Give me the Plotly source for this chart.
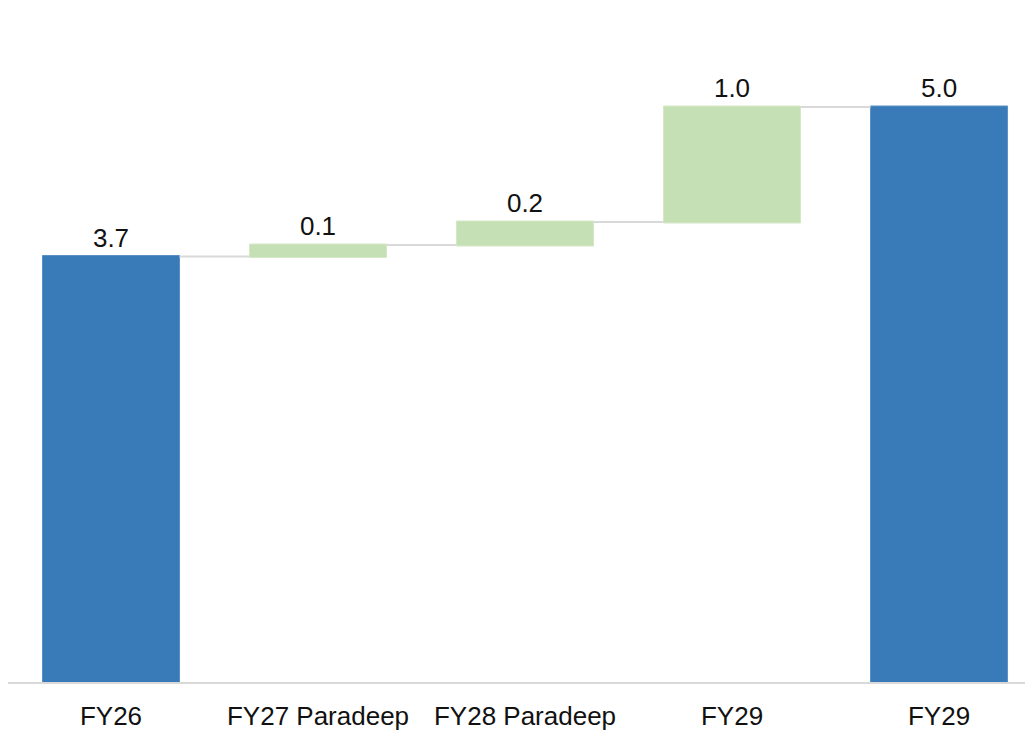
import plotly.graph_objects as go

categories = ["FY26", "FY27 Paradeep", "FY28 Paradeep", "FY29", "FY29"]
measures = ["absolute", "relative", "relative", "relative", "total"]
values = [3.7, 0.1, 0.2, 1.0, 0]
labels = ["3.7", "0.1", "0.2", "1.0", "5.0"]

BLUE = "#397bb8"
GREEN = "#c6e0b5"
GREY = "#d9d9d9"
FONT = "Liberation Sans, Arial, sans-serif"

x = list(range(len(categories)))

fig = go.Figure(go.Waterfall(
    x=x,
    y=values,
    measure=measures,
    text=labels,
    textposition="outside",
    constraintext="none",
    textfont=dict(family=FONT, size=26, color="#111111"),
    increasing=dict(marker=dict(color=GREEN, line=dict(color="#d4e8c6", width=1))),
    decreasing=dict(marker=dict(color="#c00000")),
    totals=dict(marker=dict(color=BLUE, line=dict(color="#5a90c6", width=1))),
    connector=dict(line=dict(color=GREY, width=2)),
    cliponaxis=False,
    hoverinfo="skip",
))

fig.update_layout(
    width=1025, height=723,
    margin=dict(l=0, r=0, t=12, b=49, autoexpand=False),
    paper_bgcolor="white", plot_bgcolor="white",
    showlegend=False,
    waterfallgap=0.338,
    font=dict(family=FONT, size=26, color="#111111"),
)
fig.update_xaxes(
    tickmode="array", tickvals=x, ticktext=categories,
    range=[-0.4976, 4.454],
    showline=True, linecolor=GREY, linewidth=2,
    showgrid=False, zeroline=False, ticks="",
    ticklabelstandoff=10,
    tickfont=dict(family=FONT, size=26, color="#111111"),
)
fig.update_yaxes(
    range=[0, 662 / 115.0],
    visible=False, showgrid=False, zeroline=False,
)

fig.write_html("out.html")
